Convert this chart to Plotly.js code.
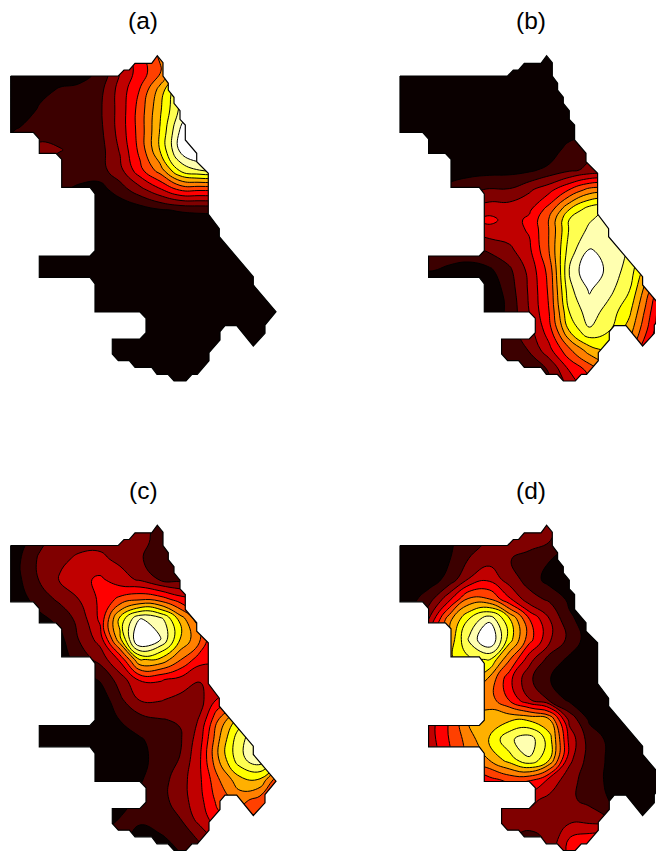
<!DOCTYPE html>
<html>
<head>
<meta charset="utf-8">
<script src="https://cdn.plot.ly/plotly-3.0.1.min.js"></script>
<style>html,body{margin:0;padding:0;background:#fff}</style>
</head>
<body>
<div id="chart" style="width:656px;height:852px"></div>
<script>
// Grid positions in map units
const gridX = [0,20,40,60,80,100,120,140,160,180,200,220,240,260,280];
const gridY = [50,70,90,110,130,150,170,190,210,230,250,270,290,310,330,350,370,390];
const gridYb = [50,70,90,110,130,150,170,190,210,220,230,250,270,290,310,330,350,370,390];

const zA = [
[0,0,0,0,0.3,1.5,3.3,5,6.4,8,10,12,12,12,12],
[0,0,0.2,0.4,0.4,1.2,3,4.5,5.8,8,10,12,12,12,12],
[0,0,0.7,1.1,1.3,1.7,3.4,5.05,7.4,10,12,12,12,12,12],
[0,0.4,1.15,1.35,1.5,1.85,3.4,5.45,7.85,10.2,12,12,12,12,12],
[0.7,1.1,1.4,1.6,1.6,1.75,3.4,5.45,8.05,11.05,12.5,12.5,12.5,12.5,12.5],
[1,1.5,2.4,2.05,1.7,1.6,3.1,5.3,8.05,11.2,12.5,12.5,12.5,12.5,12.5],
[1,1.4,1.6,1.5,1.45,1.6,2.7,4.7,6.5,9.2,10.05,10.1,10,10,10],
[1.1,1.1,1.1,1.1,0.8,0.6,1.5,2.6,3.8,5.05,5.1,5.1,5.1,5.1,5.1],
[0,0,0,0,0,0.1,0.2,0.5,0.9,1.1,1.2,1.2,1.1,1.1,1.1],
[0,0,0,0,0,0,0,0,0,0,0,0,0,0,0],
[0,0,0,0,0,0,0,0,0,0,0,0,0,0,0],
[0,0,0,0,0,0,0,0,0,0,0,0,0,0,0],
[0,0,0,0,0,0,0,0,0,0,0,0,0,0,0],
[0,0,0,0,0,0,0,0,0,0,0,0,0,0,0],
[0,0,0,0,0,0,0,0,0,0,0,0,0,0,0],
[0,0,0,0,0,0,0,0,0,0,0,0,0,0,0],
[0,0,0,0,0,0,0,0,0,0,0,0,0,0,0],
[0,0,0,0,0,0,0,0,0,0,0,0,0,0,0]
];
const zB = [
[0,0,0,0,0,0,0,0,0,0,0,0,0,0,0],
[0,0,0,0,0,0,0,0,0,0,0,0,0,0,0],
[0,0,0,0,0,0,0,0,0,0,0,0,0,0,0],
[0,0,0,0,0,0,0,0,0,0,0,0,0,0,0],
[0,0,0,0,0,0,0,0,0,0.3,0.6,0.6,0.6,0.6,0.6],
[0,0,0,0,0,0,0,0.05,0.3,1.5,1.7,1.8,1.8,1.8,1.8],
[0,0,0,0,0.5,0.6,0.65,0.8,1.3,1.8,2.2,2.3,2.3,2.3,2.3],
[0,0,0.8,1.6,1.85,2.1,2.1,2.85,3.7,5.05,6.4,6.6,6.6,6.6,6.6],
[1.1,1.1,2.1,2.5,3.1,3.6,3.6,3.85,5.5,8.05,9.6,10.1,10.1,10.1,10.1],
[1.1,1.1,2.1,2.5,3.7,4.3,3.6,4.2,6.1,9.05,9.9,10.5,10.5,10.5,10.5],
[1.1,1.1,2.1,2.4,3.2,3.6,3.6,4.1,6.05,9.1,10.2,10.4,10.4,10.1,10.1],
[1.1,1.1,1.2,1.3,1.6,2.2,2.75,3.8,6.05,9.5,11.05,10.8,9.9,8.05,6.05],
[0.8,0.9,1.05,0.9,0.6,0.8,1.8,3.3,5.4,10.05,12,10.6,9.6,7.05,5.05],
[0,0,0.1,0.2,0.2,0.2,1.5,3.15,5.2,9.7,11.1,10.3,9.05,6.05,3.05],
[0,0,0,0,0,0.1,1.3,3.05,5.05,9.1,10.6,9.6,8.3,5.3,2.05],
[0,0,0,0,0,0.5,1.6,2.6,4.6,8.1,9.9,9.05,7.5,4.7,2.05],
[0,0,0,0,0,1.1,1.4,2.05,3.7,5.8,7.5,8.3,6.5,3.5,2.05],
[0,0,0,0,0,1.1,1.4,1.6,2.05,4.05,5.3,6.05,5.05,3.05,2.05],
[0,0,0,0,0,1.1,1.4,1.5,1.9,3.2,4.5,5.05,5.05,3.05,2.05]
];
const zC = [
[0,0,0,0,0.5,2.05,2.5,2.4,1.6,1.5,1.5,1.5,1.5,1.5,1.5],
[0,0.4,1.7,2.3,2.6,2.7,2.7,2.5,1.5,1.2,1.2,1.2,1.2,1.2,1.2],
[0,0.95,2.2,2.8,3.2,3.2,2.8,2.1,1.5,1.3,1.3,1.3,1.3,1.3,1.3],
[0,0.9,2.1,3.1,3.7,4.2,3.4,2.85,1.9,1.7,1.5,1.5,1.5,1.5,1.5],
[0,0.6,1.5,2.2,3.05,4.2,5.3,5.9,5.6,4.5,4.1,4.1,4.1,4.1,4.1],
[0,0.3,0.7,1.3,2.35,4.2,8.4,11.1,10.5,7.7,5.2,4.5,4.5,4.5,4.5],
[0,0,0.3,0.7,2.1,3.4,7.7,12.5,11.1,8.05,6.05,3.05,3.05,3.05,3.05],
[0,0,0.1,0.4,1.5,2.3,4.2,8.05,7.8,6.1,4.4,4.3,4.3,4.3,4.3],
[0,0,0,0.1,0.5,1.1,2.45,4.1,4.1,3.7,3.05,3.05,3.05,3.05,3.05],
[0,0,0,0,0.1,0.3,1.8,3.1,3.1,2.7,2.7,4.2,4.5,4.5,4.5],
[0,0,0,0,0,0.1,1.05,1.6,1.95,2.1,3.1,6.2,8.5,10.1,10.1],
[0,0,0,0,0,0,0.1,0.9,1.4,1.85,3.6,7.1,9.8,10.6,10.1],
[0,0,0,0,0,0,0,0.7,1.4,2.05,3.9,7.2,9.7,10.7,8.05],
[0,0,0,0,0,0,0,0.9,1.55,2.5,3.85,6.05,7.7,7.9,5.05],
[0,0,0,0,0,0,0.6,1.2,1.6,2.5,3.7,5.5,6.4,5.6,5.05],
[0,0,0,0,0,0.5,1.05,1.15,1.6,1.95,3.4,4.7,5.05,5.05,5.05],
[0,0,0,0,0,1.1,1.3,0.6,0.75,1.4,2.1,3.5,4.05,4.05,4.05],
[0,0,0,0,0,1.1,1.1,0.3,0.3,0.8,1.5,2.5,3.05,3.05,3.05]
];
const zD = [
[0,0,0,0.7,1.5,2.1,2.6,2.5,2.2,1.5,1.1,1.1,1.1,1.1,1.1],
[0,0,0,0.8,1.6,2.1,2.6,2.5,2.1,1.3,1.1,1.1,1.1,1.1,1.1],
[0,0,0.3,0.95,2.05,2.6,2.05,1.6,1.05,0.6,0.3,0,0,0,0],
[0,0,0.5,1.35,3.1,3.8,2.5,1.6,0.6,0.3,0.1,0,0,0,0],
[0,0.6,1.6,3.8,6.3,6.1,4.2,2.4,1.85,0.8,0.3,0,0,0,0],
[0,0.9,3.1,6.7,9.1,10.8,8.2,5.05,3.05,1.2,0.5,0,0,0,0],
[0,0.9,4.1,7.2,10.2,12.2,8.5,5.4,3.2,1.7,0.5,0,0,0,0],
[0,0.9,4.1,7.8,8.8,9.05,6.1,3.4,1.6,0.8,0.2,0,0,0,0],
[0,0.9,4.1,6.1,7.9,6.8,4.3,2.2,1.05,0.3,0,0,0,0,0],
[0,0.9,3.1,5.1,6.6,6.5,4.9,3.05,1.85,0.75,0.1,0,0,0,0],
[1.1,2.1,3.5,5.1,7.05,7.5,7.8,7.8,7.05,2.7,0.85,0.2,0,0,0],
[1.1,2.1,3.5,5.05,6.5,8.05,9.8,10.6,8.5,3.7,1.55,0.8,0.2,0,0],
[1.1,2.1,3.1,4.5,6.05,7.05,8.5,9.9,8.05,3.3,1.55,0.85,0.2,0,0],
[0.5,1.1,2.1,2.5,3.1,4.7,5.3,5.2,3.8,2.4,1.5,0.8,0.2,0,0],
[0,0,1.1,2.1,2.5,3.05,3.2,3.3,2.7,2.2,1.7,0.95,0.2,0,0],
[0,0,0,1.1,2.1,2.3,2.5,2.5,2.6,2.7,2.6,2.05,0.5,0,0],
[0,0,0,1.1,1.5,1.7,1.9,1.6,2.2,4.1,4.6,4.6,2.05,0,0],
[0,0,0,1.1,1.5,1.7,1.9,1.7,2.5,4.2,4.6,4.6,2.05,0,0]
];

// City outline
const outlineX = [10.7,118.3,124,129.3,135,151.7,157.3,163,163,168.3,168.3,174,174,180,180,185.3,185.3,196.7,196.7,208.3,208.3,219.3,219.3,253.3,253.3,276,265,265,253.3,236.7,225,220,220,209,209,197.3,192,186,174,168,157,151.7,135,129.3,118.3,112.3,112.3,140,146,146,140,95,95,90,39.3,39.3,90,95,95,90,61.7,61.7,56,39.3,39.3,33.3,10.7,10.7];
const outlineY = [76,76,70,70,63.3,63.3,55.7,62.7,76,83.3,90,97.3,103.3,110.7,119.3,125,140,153.3,161.7,173.3,214,228.7,236.7,276.7,285,311.7,325,333.3,346,325.7,325.7,331.7,340,352.7,360.7,374.3,374.3,381,381,374.3,374.3,367.3,367.3,360.7,360.7,354,339,339,332.7,318.3,312,312,284,277.3,277.3,256,256,250.7,194,187.3,187.3,159.3,153.3,153.3,139,132.3,132.3,76];

const levelColors = ['#0a0000','#3c0000','#800000','#c00000','#ff0000','#ff4000','#ff8000','#ffb000','#ffff00','#ffff50','#ffffb0','#ffffff'];
const panelLabels = ['(a)','(b)','(c)','(d)'];
const W = 656, H = 852;
const panels = [
  {z:zA, gy:gridY,  ox:0,     oy:0,     xr:[0,290],     yr:[400,40]},
  {z:zB, gy:gridYb, ox:389.3, oy:0,     xr:[-10,266.7],   yr:[400,40]},
  {z:zC, gy:gridY,  ox:0,     oy:469.5, xr:[0,290],     yr:[382.5,40]},
  {z:zD, gy:gridY,  ox:389.3, oy:469.5, xr:[-10,266.7],   yr:[382.5,40]}
];
const labelPos = [[143,21],[531,21],[143,490],[531,490]];
const colorscale = levelColors.map((c,i)=>[i/(levelColors.length-1),c]);

const data = [], layout = {
  width:W, height:H, margin:{l:0,r:0,t:0,b:0}, paper_bgcolor:'#fff', plot_bgcolor:'#fff',
  showlegend:false, annotations:[], font:{family:'"Liberation Sans", Arial, sans-serif',color:'#000'}
};
panels.forEach((p,i)=>{
  const n = i===0?'':String(i+1);
  const xa='x'+n, ya='y'+n;
  const sy = p.yr[0]-p.yr[1];
  layout['xaxis'+n] = {domain:[(p.ox+p.xr[0])/W,(p.ox+p.xr[1])/W],range:p.xr,visible:false,fixedrange:true,anchor:ya};
  layout['yaxis'+n] = {domain:[1-(p.oy+40+sy)/H,1-(p.oy+40)/H],range:p.yr,visible:false,fixedrange:true,anchor:xa};
  data.push({type:'contour',x:gridX,y:p.gy,z:p.z,xaxis:xa,yaxis:ya,autocontour:false,
    contours:{start:1,end:11,size:1,coloring:'fill',showlines:true},
    line:{color:'#000',width:1,smoothing:1.3},colorscale,showscale:false,hoverinfo:'skip'});
  // white mask outside the outline (rectangle with a keyhole)
  const mx=[-20,-20,300,300,-20].concat(outlineX,[-20]);
  const my=[30,410,410,30,30].concat(outlineY,[30]);
  data.push({type:'scatter',mode:'lines',x:mx,y:my,xaxis:xa,yaxis:ya,fill:'toself',fillcolor:'#fff',
    line:{width:0,color:'#fff'},hoverinfo:'skip'});
  data.push({type:'scatter',mode:'lines',x:outlineX,y:outlineY,xaxis:xa,yaxis:ya,
    line:{width:1.2,color:'#000'},hoverinfo:'skip'});
  layout.annotations.push({text:panelLabels[i],xref:'paper',yref:'paper',x:labelPos[i][0]/W,y:1-labelPos[i][1]/H,
    xanchor:'center',yanchor:'middle',showarrow:false,font:{size:24.5,color:'#000'}});
});
Plotly.newPlot('chart',data,layout,{staticPlot:true,displayModeBar:false});
</script>
</body>
</html>
